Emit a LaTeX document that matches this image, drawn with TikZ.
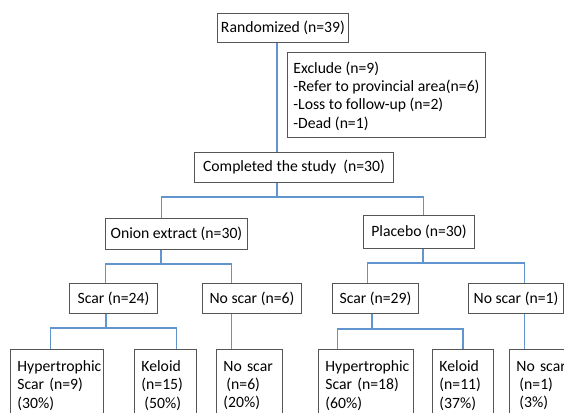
\documentclass[tikz,border=0pt]{standalone}
\usepackage{fontspec}
\setmainfont{Carlito}
\usepackage{tikz}
\usetikzlibrary{calc}
\definecolor{linkblue}{RGB}{98,148,206}
\definecolor{boxgray}{RGB}{85,85,85}

\begin{document}
\begin{tikzpicture}[x=1pt, y=-1pt,
        box/.style={draw=boxgray, line width=0.9pt, anchor=north west, inner xsep=3pt, inner ysep=0pt,
            font=\fontsize{15.7}{18.3}\selectfont},
        leaf/.style={box, align=left, inner xsep=7pt, minimum height=72pt},
        link/.style={draw=linkblue, line width=1.2pt}]
        \useasboundingbox (0,0) rectangle (564,412);
        \clip (0,0) rectangle (564,412);
        \fill[white] (0,0) rectangle (564,412);

        % top of the chart
        \node[box, minimum width=131pt, minimum height=29pt] (rand) at (217,13) {Randomized (n=39)};
        \node[box, align=left, minimum width=198pt, minimum height=85pt, text depth=0pt] (excl) at (287,52)
            {Exclude (n=9)\\-Refer to provincial area(n=6)\\-Loss to follow-up (n=2)\\-Dead (n=1)};
        \node[box, minimum width=199pt, minimum height=30pt] (comp) at (194,152) {Completed the study~ (n=30)};

        \node[box, minimum width=142pt, minimum height=31pt] (onion) at (105,218) {Onion extract (n=30)};
        \node[box, minimum width=111pt, minimum height=33pt] (plac) at (363,215) {Placebo (n=30)};

        \node[box, minimum width=88pt, minimum height=30pt] (scarA) at (69,283) {Scar (n=24)};
        \node[box, minimum width=99pt, minimum height=30pt] (noscA) at (202,283) {No scar (n=6)};
        \node[box, minimum width=86pt, minimum height=30pt] (scarB) at (332,283) {Scar (n=29)};
        \node[box, minimum width=95pt, minimum height=30pt] (noscB) at (468,283) {No scar (n=1)};

        % outcome boxes, cut off at the bottom
        \node[leaf, text width=79pt] (hypA) at (10,349) {Hypertrophic\\Scar (n=9)\\(30\%)};
        \node[leaf, text width=48pt] (kelA) at (134,349) {Keloid\\(n=15)\\\hspace*{3pt}(50\%)};
        \node[leaf, text width=52pt] (nsA) at (216,349) {No scar\\\hspace*{3pt}(n=6)\\(20\%)};
        \node[leaf, text width=81pt] (hypB) at (318,349) {Hypertrophic\\Scar (n=18)\\(60\%)};
        \node[leaf, text width=47pt] (kelB) at (432,349) {Keloid\\(n=11)\\(37\%)};
        \node[leaf, text width=76pt] (nsB) at (509,349) {No scar\\\hspace*{3pt}(n=1)\\\hspace*{3pt}(3\%)};

        % connectors
        \coordinate (f0) at (277,197);
        \coordinate (f1) at (161,264);
        \coordinate (f2) at (423,263);
        \coordinate (f3) at (106,328);
        \coordinate (f4) at (372,329);

        \draw[link] (rand.south -| f0) -- (comp.north -| f0);
        \draw[link] (comp.south -| f0) -- (f0);
        \draw[link] ([xshift=-15pt]onion.north) |- (f0) -| ([xshift=4.5pt]plac.north);

        \draw[link] (onion.south -| f1) -- (f1);
        \draw[link] ([xshift=-8pt]scarA.north) |- (f1) -| ([xshift=-20.5pt]noscA.north);
        \draw[link] (plac.south -| f2) -- (f2);
        \draw[link] ([xshift=-8pt]scarB.north) |- (f2) -| ([xshift=8.5pt]noscB.north);

        \draw[link] (scarA.south -| f3) -- (f3);
        \draw[link] ([xshift=-6.5pt]hypA.north) |- (f3) -| ([xshift=11pt]kelA.north);
        \draw[link] ([xshift=-20.5pt]noscA.south) coordinate (d1) -- (d1 |- nsA.north);
        \draw[link] (scarB.south -| f4) -- (f4);
        \draw[link] ([xshift=-28.5pt]hypB.north) |- (f4) -| (kelB.north);
        \draw[link] ([xshift=8.5pt]noscB.south) coordinate (d2) -- (d2 |- nsB.north);
    \end{tikzpicture}
\end{document}
